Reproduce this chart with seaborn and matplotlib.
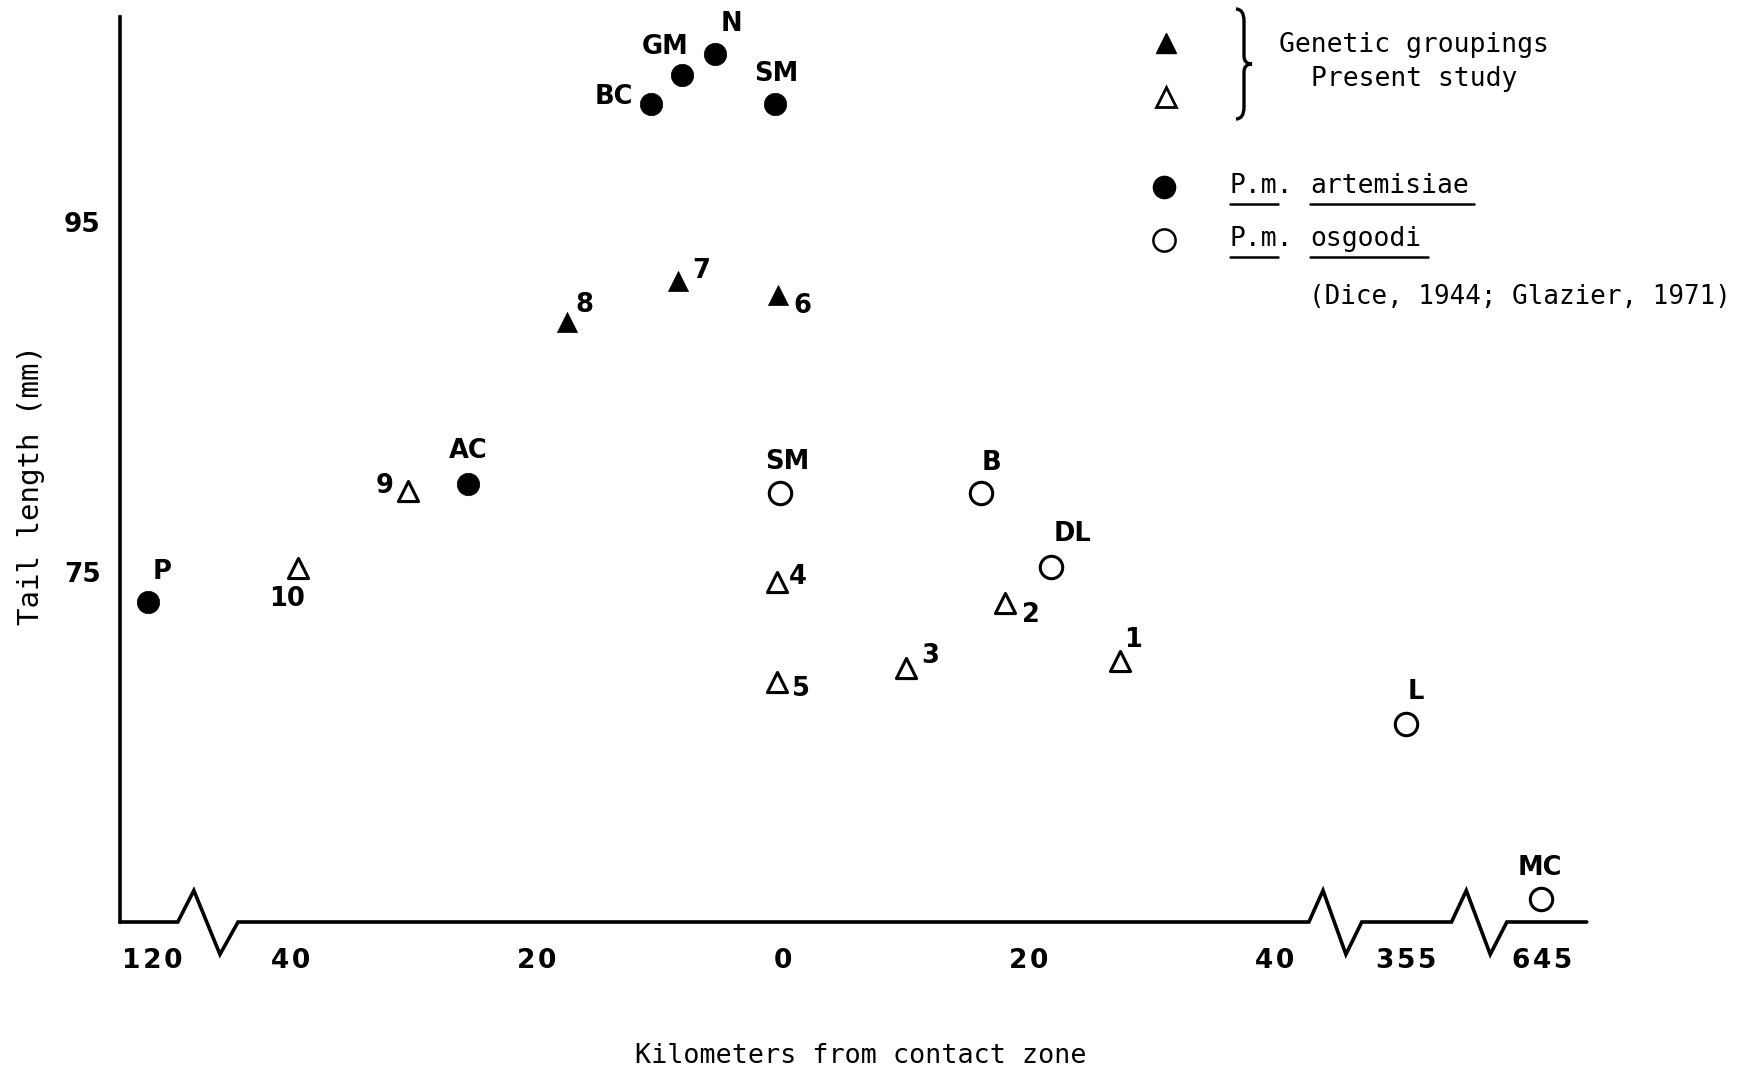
import matplotlib
matplotlib.use("Agg")
import matplotlib.pyplot as plt
from matplotlib.path import Path
from matplotlib.patches import PathPatch
import seaborn as sns
import pandas as pd

# --- data (x = km along the drawn axis, west negative; far sites sit past the breaks)
art_sites = ["P", "AC", "BC", "GM", "N", "SM"]
art_x = [-51.6, -25.6, -10.75, -8.2, -5.5, -0.6]
art_y = [73.3, 80.0, 101.75, 103.4, 104.6, 101.75]

osg_sites = ["SM", "B", "DL", "L", "MC"]
osg_x = [-0.25, 16.1, 21.8, 50.7, 61.7]
osg_y = [79.5, 79.5, 75.3, 66.3, 56.3]

gen_filled_sites = ["8", "7", "6"]
gen_filled_x = [-17.55, -8.5, -0.4]
gen_filled_y = [89.3, 91.6, 90.8]

gen_open_sites = ["9", "10", "4", "5", "3", "2", "1"]
gen_open_x = [-30.5, -39.4, -0.5, -0.5, 10.0, 18.1, 27.4]
gen_open_y = [79.65, 75.2, 74.4, 68.7, 69.5, 73.2, 69.9]

x_tick_labels = ["120", "40", "20", "0", "20", "40", "355", "645"]
x_tick_pos = [-51.3, -40, -20, 0, 20, 40, 50.7, 61.8]
y_ticks = [95, 85, 75, 65]
y_tick_labels = ["95", "", "75", ""]

# label offsets (points) for each site text
offsets = {
    "art": [(9.6, 21.7), (0, 24), (-26.5, 4.8), (-12, 20), (12, 21.7), (1, 21.7)],
    "osg": [(5.6, 22.5), (8, 21.7), (16, 23.3), (7.2, 23.3), (-0.8, 22.5)],
    "genf": [(12.8, 12), (16.8, 7.2), (17.6, -8)],
    "geno": [(-16.8, 3.2), (-8, -21.7), (15.2, 4), (17.6, -4.8), (17.6, 8.8), (18.4, -8), (9.6, 15.2)],
}

sns.set_style("white")
plt.rcParams["font.family"] = ["DejaVu Sans"]
plt.rcParams["text.color"] = "black"
plt.rcParams["axes.labelcolor"] = "black"

W, H = 1747, 1083
fig = plt.figure(figsize=(W / 100, H / 100), dpi=100)
ax = fig.add_axes([120 / W, (H - 922) / H, (1588 - 120) / W, (922 - 17) / H])

art = pd.DataFrame({"x": art_x, "y": art_y})
osg = pd.DataFrame({"x": osg_x, "y": osg_y})
genf = pd.DataFrame({"x": gen_filled_x, "y": gen_filled_y})
geno = pd.DataFrame({"x": gen_open_x, "y": gen_open_y})

sns.scatterplot(data=art, x="x", y="y", marker="o", s=260, color="black",
                edgecolor="black", linewidth=0.5, ax=ax, clip_on=False, zorder=3)
sns.scatterplot(data=osg, x="x", y="y", marker="o", s=260, facecolor="white",
                edgecolor="black", linewidth=2.2, ax=ax, clip_on=False, zorder=3)
sns.scatterplot(data=genf, x="x", y="y", marker="^", s=210, color="black",
                edgecolor="black", linewidth=0.5, ax=ax, zorder=3)
sns.scatterplot(data=geno, x="x", y="y", marker="^", s=210, facecolor="white",
                edgecolor="black", linewidth=2.2, ax=ax, zorder=3)

lab_font = dict(fontsize=18.5, fontweight="bold", ha="center", va="center", color="black")
for key, names, xs, ys in [("art", art_sites, art_x, art_y),
                           ("osg", osg_sites, osg_x, osg_y),
                           ("genf", gen_filled_sites, gen_filled_x, gen_filled_y),
                           ("geno", gen_open_sites, gen_open_x, gen_open_y)]:
    for name, x, y, off in zip(names, xs, ys, offsets[key]):
        ax.annotate(name, (x, y), xytext=off, textcoords="offset points",
                    annotation_clip=False, **lab_font)

ax.set_xlim(-53.9, 65.5)
ax.set_ylim(55, 106.7)
for s in ["top", "right", "bottom"]:
    ax.spines[s].set_visible(False)
ax.spines["left"].set_linewidth(2.6)
ax.spines["left"].set_color("black")

ax.set_yticks(y_ticks)
ax.set_yticklabels(y_tick_labels)
ax.tick_params(axis="y", direction="in", length=9, width=1.6, pad=14,
               labelsize=19, colors="black")
ax.set_xticks(x_tick_pos)
ax.set_xticklabels(["\u200a".join(t) for t in x_tick_labels])
ax.tick_params(axis="x", direction="in", length=8, width=1.6, pad=19,
               labelsize=19, colors="black")
for t in ax.get_xticklabels() + ax.get_yticklabels():
    t.set_fontweight("bold")
ax.set_xlabel("")
ax.set_ylabel("")

# broken x axis line with zigzags
breaks = [(-49.2, -44.3), (42.8, 47.1), (54.4, 58.9)]
bx, by = [-53.9], [55]
for a, b in breaks:
    d = (b - a) / 3
    bx += [a, a + d * 0.8, a + d * 2.1, b]
    by += [55, 56.8, 53.15, 55]
bx.append(65.4)
by.append(55)
ax.plot(bx, by, color="black", lw=2.6, clip_on=False, solid_joinstyle="miter", zorder=2)

# overlay in pixel coordinates for legend and titles
lax = fig.add_axes([0, 0, 1, 1], facecolor="none")
lax.set_xlim(0, W)
lax.set_ylim(H, 0)
lax.axis("off")

mono = dict(family="DejaVu Sans Mono", fontsize=19, color="black", va="center")
lax.text(861, 1056, "Kilometers from contact zone", ha="center",
         **{**mono, "fontsize": 19.3})
lax.text(31, 485, "Tail length (mm)", ha="center", rotation=90,
         **{**mono, "fontsize": 21})

lax.plot([1166], [43], marker="^", ms=14, color="black", ls="none")
lax.plot([1166], [97], marker="^", ms=14, mfc="white", mec="black", mew=2, ls="none")
lax.plot([1164], [187], marker="o", ms=16, color="black", ls="none")
lax.plot([1164], [240], marker="o", ms=16, mfc="white", mec="black", mew=1.8, ls="none")

# brace
bx0, bx1, bxm = 1236, 1244, 1252
yt, ym, yb = 9, 64, 119
verts = [(bx0, yt), (bx1, yt), (bx1, yt + 12),
         (bx1, ym - 8), (bx1, ym), (bxm, ym),
         (bx1, ym), (bx1, ym + 8),
         (bx1, yb - 12), (bx1, yb), (bx0, yb)]
codes = [Path.MOVETO, Path.CURVE3, Path.CURVE3,
         Path.LINETO, Path.CURVE3, Path.CURVE3,
         Path.CURVE3, Path.CURVE3,
         Path.LINETO, Path.CURVE3, Path.CURVE3]
lax.add_patch(PathPatch(Path(verts, codes), fill=False, lw=2.4, color="black"))

lax.text(1279, 45, "Genetic groupings", ha="left", **mono)
lax.text(1311, 79, "Present study", ha="left", **mono)
lax.text(1230, 186, "P.m.", ha="left", **mono)
lax.text(1310, 186, "artemisiae", ha="left", **mono)
lax.text(1230, 239, "P.m.", ha="left", **mono)
lax.text(1310, 239, "osgoodi", ha="left", **mono)
lax.text(1309, 297, "(Dice, 1944; Glazier, 1971)", ha="left",
         **{**mono, "fontsize": 18.6})
for x0, x1, y in [(1230, 1278, 204), (1310, 1474, 204), (1230, 1278, 257), (1310, 1428, 257)]:
    lax.plot([x0, x1], [y, y], color="black", lw=1.8)

fig.savefig("out.png", dpi=100)
